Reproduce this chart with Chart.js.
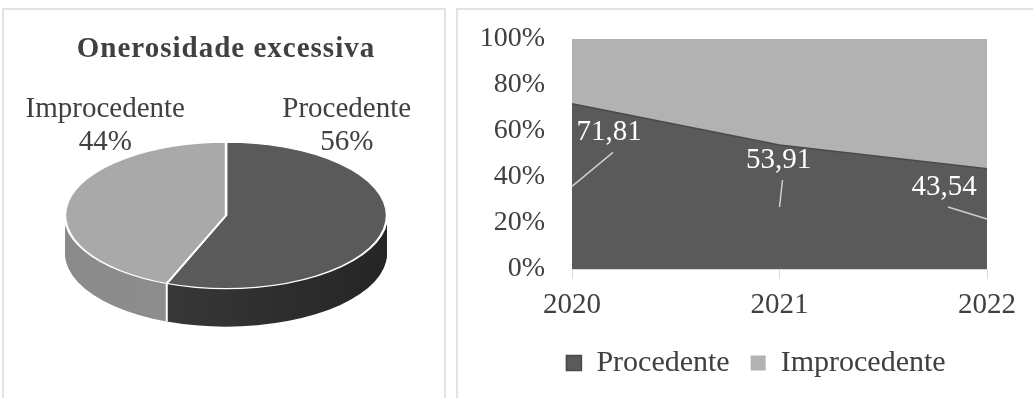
<!DOCTYPE html>
<html>
<head>
<meta charset="utf-8">
<script src="https://cdn.jsdelivr.net/npm/chart.js@4.4.1/dist/chart.umd.min.js"></script>
<style>
  body { margin: 0; background: #fff; width: 1033px; height: 398px; overflow: hidden; position: relative; }
  .box { position: absolute; border: 2px solid #e2e2e2; border-bottom: none; }
  #boxLeft { left: 2px; top: 8px; width: 440px; height: 400px; }
  #boxRight { left: 456px; top: 8px; width: 600px; height: 400px; }
  canvas { position: absolute; }
  #pieChart { left: 4px; top: 10px; }
  #areaChart { left: 458px; top: 10px; }
</style>
</head>
<body>
<div class="box" id="boxLeft"></div>
<div class="box" id="boxRight"></div>
<canvas id="pieChart" width="440" height="388"></canvas>
<canvas id="areaChart" width="575" height="388"></canvas>
<script>
// data
const pieTitle = 'Onerosidade excessiva';
const pieLabels = ['Procedente', 'Improcedente'];
const pieValues = [56, 44];

const years = ['2020', '2021', '2022'];
const procedente = [71.81, 53.91, 43.54];
const improcedente = [28.19, 46.09, 56.46];
const yTicks = [0, 20, 40, 60, 80, 100];

const serif = "'Liberation Serif', 'Times New Roman', serif";
const textColor = '#404040';

// --- 3D look for the pie: squash the top, stack darker layers under it ---
const TILT = 0.455;
const DEPTH = 38;
const sideColors = [['#404040', '#252525'], ['#8a8a8a', '#949494']];

const pie3d = {
  id: 'pie3d',
  beforeDraw(chart) {
    // the title in the picture is a bit spaced out
    chart.ctx.letterSpacing = '1px';
  },
  beforeDatasetsDraw(chart) {
    const ctx = chart.ctx;
    ctx.letterSpacing = '0px';
    const arcs = chart.getDatasetMeta(0).data;
    const cx = arcs[0].x, cy = arcs[0].y, r = arcs[0].outerRadius;
    for (let d = DEPTH; d > 0; d--) {
      arcs.forEach((arc, i) => {
        ctx.save();
        ctx.translate(cx, cy + d);
        ctx.scale(1, TILT);
        const g = ctx.createLinearGradient(-r, 0, r, 0);
        g.addColorStop(0, sideColors[i][0]);
        g.addColorStop(1, sideColors[i][1]);
        ctx.fillStyle = g;
        ctx.beginPath();
        ctx.moveTo(0, 0);
        ctx.arc(0, 0, r, arc.startAngle, arc.endAngle);
        ctx.closePath();
        ctx.fill();
        ctx.restore();
      });
    }
    ctx.save();
    ctx.translate(cx, cy);
    ctx.scale(1, TILT);
    ctx.translate(-cx, -cy);
  },
  afterDatasetsDraw(chart) {
    const ctx = chart.ctx;
    ctx.restore();
    const arcs = chart.getDatasetMeta(0).data;
    const cx = arcs[0].x, cy = arcs[0].y, r = arcs[0].outerRadius;
    const total = pieValues.reduce((a, b) => a + b, 0);

    // white seams on the side
    ctx.save();
    ctx.strokeStyle = '#fff';
    ctx.lineWidth = 2;
    arcs.forEach(arc => {
      const a = arc.startAngle;
      if (Math.sin(a) > 0.01) {
        const px = cx + r * Math.cos(a), py = cy + TILT * r * Math.sin(a);
        ctx.beginPath();
        ctx.moveTo(px, py);
        ctx.lineTo(px, py + DEPTH);
        ctx.stroke();
      }
    });

    // category + percent labels above the pie
    ctx.fillStyle = textColor;
    ctx.font = '29px ' + serif;
    ctx.textAlign = 'center';
    ctx.textBaseline = 'middle';
    arcs.forEach((arc, i) => {
      const mid = (arc.startAngle + arc.endAngle) / 2;
      const side = Math.cos(mid) >= 0 ? 1 : -1;
      const x = cx + side * r * 0.75;
      const y = cy - r * TILT;
      ctx.fillText(pieLabels[i], x, y - 33);
      ctx.fillText(Math.round(pieValues[i] / total * 100) + '%', x, y);
    });
    ctx.restore();
  }
};

new Chart(document.getElementById('pieChart'), {
  type: 'pie',
  data: {
    labels: pieLabels,
    datasets: [{
      data: pieValues,
      backgroundColor: ['#5a5a5a', '#a9a9a9'],
      borderColor: '#ffffff',
      borderWidth: 2.5,
      radius: 161,
      clip: false
    }]
  },
  options: {
    responsive: false,
    animation: false,
    events: [],
    layout: { padding: { left: 24, right: 20, top: 0, bottom: 34 } },
    plugins: {
      legend: { display: false },
      tooltip: { enabled: false },
      title: {
        display: true,
        text: pieTitle,
        color: textColor,
        font: { family: serif, size: 29, weight: 'bold' },
        padding: { top: 22, bottom: 0 }
      }
    }
  },
  plugins: [pie3d]
});

// --- value labels with leader lines on the area chart ---
const labelNudge = [[37, -54], [-1, -47], [-43, -32]];
const PANEL_WIDTH = 596; // the right panel runs past the window edge

const areaLabels = {
  id: 'areaLabels',
  afterLayout(chart) {
    // centre the legend on the whole panel, as in the picture
    chart.legend.left = 0;
    chart.legend.right = PANEL_WIDTH;
  },
  afterDatasetsDraw(chart) {
    const ctx = chart.ctx;
    const yScale = chart.scales.y;
    const pts = chart.getDatasetMeta(0).data;
    ctx.save();
    ctx.font = '29px ' + serif;
    ctx.textAlign = 'center';
    ctx.textBaseline = 'middle';
    pts.forEach((p, i) => {
      const v = procedente[i];
      const ay = yScale.getPixelForValue(v / 2);
      const lx = p.x + labelNudge[i][0], ly = ay + labelNudge[i][1];
      ctx.strokeStyle = '#cfcfcf';
      ctx.lineWidth = 1.5;
      ctx.beginPath();
      ctx.moveTo(p.x, ay);
      ctx.lineTo(lx + 4, ly + 20);
      ctx.stroke();
      ctx.fillStyle = '#ffffff';
      ctx.fillText(v.toFixed(2).replace('.', ','), lx, ly);
    });
    ctx.restore();
  }
};

new Chart(document.getElementById('areaChart'), {
  type: 'line',
  data: {
    labels: years,
    datasets: [
      {
        label: 'Procedente',
        data: procedente,
        fill: 'origin',
        backgroundColor: '#5a5a5a',
        borderColor: '#4a4a4a',
        borderWidth: 1.5,
        pointRadius: 0,
        tension: 0
      },
      {
        label: 'Improcedente',
        data: improcedente,
        fill: '-1',
        backgroundColor: '#b2b2b2',
        borderColor: '#b2b2b2',
        borderWidth: 0,
        pointRadius: 0,
        tension: 0
      }
    ]
  },
  options: {
    responsive: false,
    animation: false,
    events: [],
    layout: { padding: { left: 0, right: 46, top: 29, bottom: 10 } },
    scales: {
      x: {
        offset: false,
        grid: { display: true, drawOnChartArea: false, drawTicks: true, tickLength: 10, color: '#d9d9d9' },
        border: { display: true, color: '#d9d9d9', width: 1 },
        ticks: { padding: 9, color: textColor, maxRotation: 0, font: { family: serif, size: 29 } },
        afterFit: s => { s.height = 58; }
      },
      y: {
        stacked: true,
        min: 0,
        max: 100,
        // invisible tick marks keep the labels clear of the plot
        grid: { display: true, drawOnChartArea: false, drawTicks: true, tickLength: 24, color: 'rgba(0,0,0,0)' },
        border: { display: false },
        ticks: { padding: 3, color: textColor, font: { family: serif, size: 28 }, callback: v => v + '%' },
        afterBuildTicks: s => { s.ticks = yTicks.map(v => ({ value: v })); },
        afterFit: s => { s.width = 114; }
      }
    },
    plugins: {
      tooltip: { enabled: false },
      legend: {
        position: 'bottom',
        labels: {
          boxWidth: 15,
          boxHeight: 15,
          padding: 21,
          color: textColor,
          font: { family: serif, size: 30 }
        }
      }
    }
  },
  plugins: [areaLabels]
});
</script>
</body>
</html>
